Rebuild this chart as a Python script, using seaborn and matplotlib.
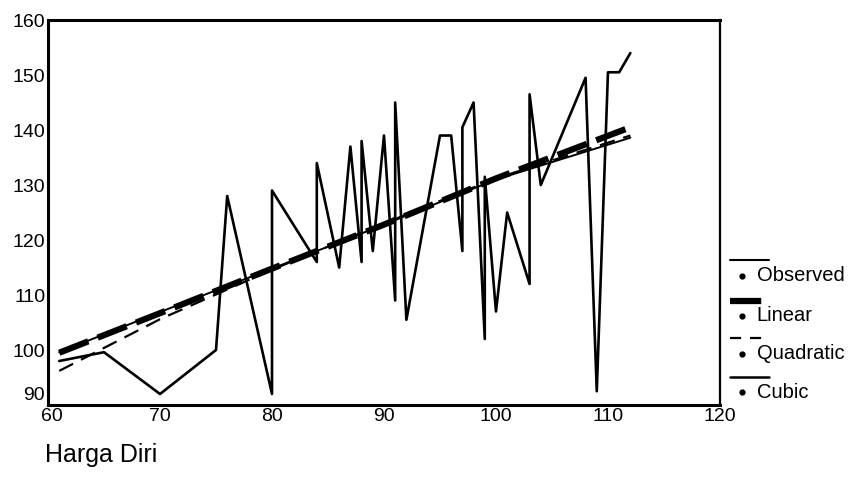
import matplotlib
matplotlib.use("Agg")
import matplotlib.pyplot as plt
import matplotlib.transforms as mtransforms
import seaborn as sns
import pandas as pd
from matplotlib.lines import Line2D

# Observed scores
harga_diri = [61, 65, 70, 75, 76, 80, 80, 84, 84, 86, 87, 88, 88, 89, 90, 91, 91, 92,
              95, 96, 97, 97, 98, 99, 99, 100, 101, 103, 103, 104, 108, 109, 110, 111, 112]
observed = [98, 99.6, 92, 100, 128, 92, 129, 116, 134, 115, 137, 116, 138, 118, 139, 109, 145, 105.5,
            139, 139, 118, 140.5, 145, 102, 131.5, 107, 125, 112, 146.5, 130, 149.5, 92.5, 150.5, 150.5, 154]

# Fitted curves
fit_x = [61, 70, 80, 90, 100, 112]
linear = [99.5, 106.7, 114.8, 122.8, 131.2, 140.5]
quadratic = [96.2, 105.6, 114.6, 123.0, 131.2, 139.0]
cubic = [99.6, 106.9, 114.8, 122.8, 131.0, 138.6]

x_ticks = [60, 70, 80, 90, 100, 110, 120]
y_ticks = [90, 100, 110, 120, 130, 140, 150, 160]

obs_df = pd.DataFrame({"x": harga_diri, "y": observed})
fit_df = pd.DataFrame({"x": fit_x, "Linear": linear, "Quadratic": quadratic, "Cubic": cubic})

sns.set_style("white")
plt.rcParams["font.family"] = ["Liberation Sans", "DejaVu Sans"]
plt.rcParams["text.color"] = "black"
plt.rcParams["xtick.color"] = "black"
plt.rcParams["ytick.color"] = "black"

fig = plt.figure(figsize=(8.5, 4.83), dpi=100)
ax = fig.add_axes([0.0565, 0.1615, 0.7905, 0.797])

sns.lineplot(data=obs_df, x="x", y="y", sort=False, estimator=None, color="black", lw=1.9, ax=ax)
sns.lineplot(data=fit_df, x="x", y="Cubic", color="black", lw=1.4, ax=ax)
sns.lineplot(data=fit_df, x="x", y="Quadratic", color="black", lw=1.6, dashes=(7, 4), ax=ax)
sns.lineplot(data=fit_df, x="x", y="Linear", color="black", lw=4.5, dashes=(5, 1.6), ax=ax)

ax.set_xlim(60, 120)
ax.set_ylim(90, 160)
ax.set_xticks(x_ticks)
ax.set_yticks(y_ticks)
ax.set_xlabel("")
ax.set_ylabel("")
ax.tick_params(axis="both", labelsize=14, length=2, width=1.2, direction="in", pad=2,
               labelcolor="black")
for side in ["left", "bottom", "top"]:
    ax.spines[side].set_linewidth(2.2)
ax.spines["right"].set_linewidth(1.6)
for s in ax.spines.values():
    s.set_color("black")

# the lowest y label sits a little higher, the first x label a little right, as in the scan
lab90 = ax.get_yticklabels()[0]
lab90.set_transform(lab90.get_transform() + mtransforms.ScaledTranslation(0, 8 / 72, fig.dpi_scale_trans))
lab60 = ax.get_xticklabels()[0]
lab60.set_transform(lab60.get_transform() + mtransforms.ScaledTranslation(3 / 72, 0, fig.dpi_scale_trans))

# SPSS style legend: line sample above, bullet + label underneath
legend_items = [("Observed", 0.4617, 0.4286, dict(lw=1.5, ls="-")),
                ("Linear", 0.3768, 0.3458, dict(lw=4.5, ls=(0, (5, 1.6)))),
                ("Quadratic", 0.3002, 0.2671, dict(lw=1.6, ls=(0, (5, 4)))),
                ("Cubic", 0.2195, 0.1884, dict(lw=1.8, ls="-"))]
for label, y_line, y_text, style in legend_items:
    fig.add_artist(Line2D([0.859, 0.905], [y_line, y_line], color="black",
                          transform=fig.transFigure, **style))
    fig.add_artist(Line2D([0.873], [y_text], marker="o", markersize=3.5, color="black",
                          transform=fig.transFigure))
    fig.text(0.890, y_text, label, fontsize=14.5, va="center", ha="left", color="black")

fig.text(0.053, 0.058, "Harga Diri", fontsize=18, va="center", ha="left", color="black")

fig.savefig("out.png", dpi=100)
